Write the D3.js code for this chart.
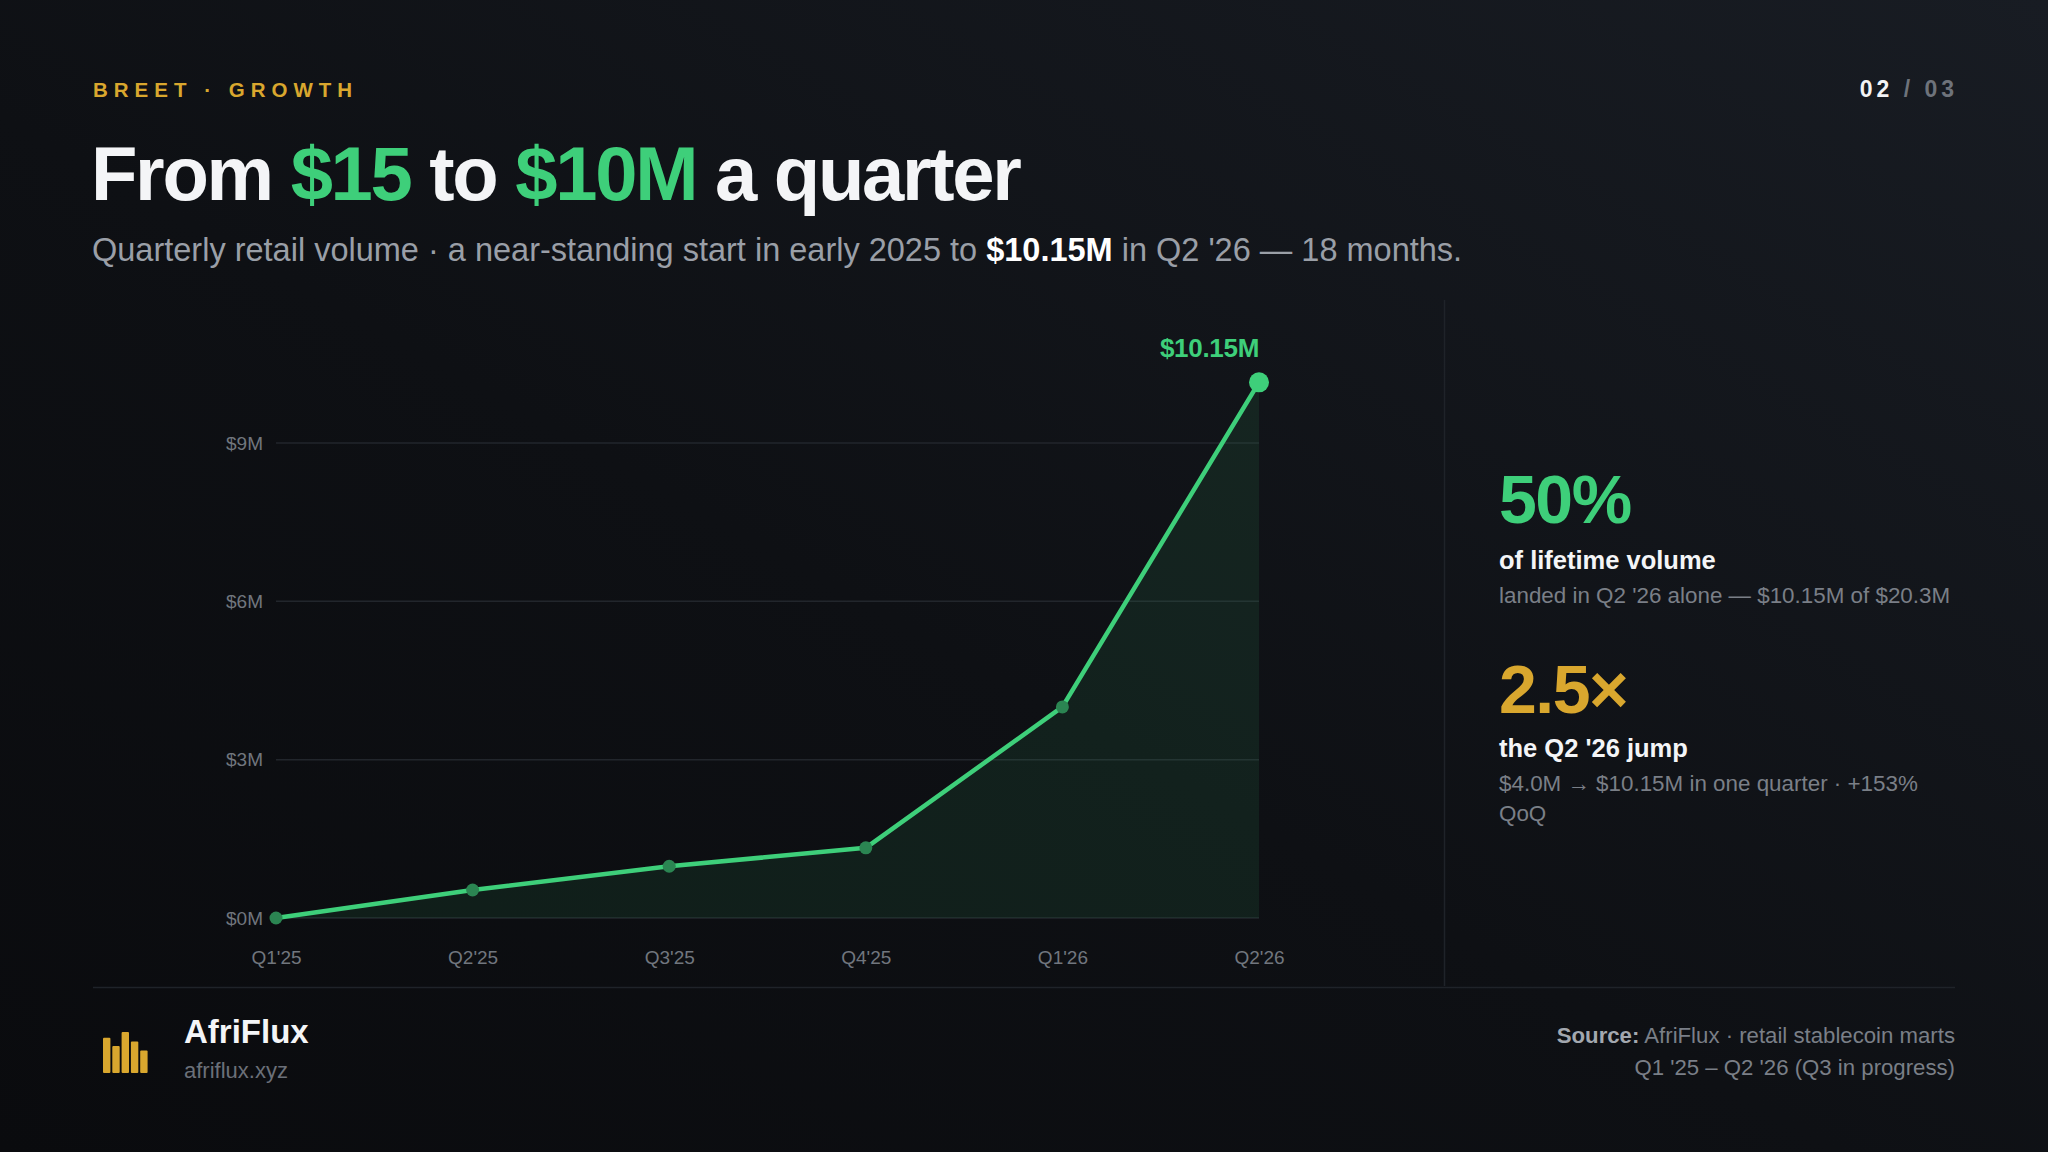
<!DOCTYPE html>
<html lang="en">
<head>
<meta charset="UTF-8">
<title>AfriFlux growth</title>
<style>
    body {
        margin: 0;
        padding: 0;
        background: #0c0e12;
        font-family: "Liberation Sans", Arial, sans-serif;
    }
    svg { display: block; }
</style>
</head>
<body>
<svg id="chart" width="2048" height="1152"></svg>

<script src="https://cdnjs.cloudflare.com/ajax/libs/d3/7.8.5/d3.min.js"></script>
<script>
// data (values in $M)
const quarters = ["Q1'25", "Q2'25", "Q3'25", "Q4'25", "Q1'26", "Q2'26"];
const volume = [0.000015, 0.53, 0.98, 1.33, 4.0, 10.15];
const yTicks = [0, 3, 6, 9];
const yTickLabels = ["$0M", "$3M", "$6M", "$9M"];
const logoBars = [0.86, 0.66, 1.0, 0.77, 0.55];

const GREEN = "#3ecf7a";
const GOLD = "#d9a72e";

const svg = d3.select("#chart");

// background
const defs = svg.append("defs");
const bg = defs.append("linearGradient").attr("id", "bg")
    .attr("x1", "100%").attr("y1", "0%").attr("x2", "0%").attr("y2", "100%");
bg.append("stop").attr("offset", "0%").attr("stop-color", "#181c23");
bg.append("stop").attr("offset", "55%").attr("stop-color", "#0e1014");
bg.append("stop").attr("offset", "100%").attr("stop-color", "#0a0b0e");
svg.append("rect").attr("width", 2048).attr("height", 1152).attr("fill", "url(#bg)");

// header
svg.append("text")
    .attr("x", 93).attr("y", 97)
    .attr("fill", GOLD)
    .attr("font-size", 20.5).attr("font-weight", 700)
    .attr("letter-spacing", "6px")
    .text("BREET · GROWTH");

const pager = svg.append("text")
    .attr("x", 1958).attr("y", 97)
    .attr("text-anchor", "end")
    .attr("font-size", 23).attr("font-weight", 700)
    .attr("letter-spacing", "4px");
pager.append("tspan").attr("fill", "#f2f3f5").text("02 ");
pager.append("tspan").attr("fill", "#6e737b").text("/ 03");

const title = svg.append("text")
    .attr("x", 91).attr("y", 200)
    .attr("font-size", 76).attr("font-weight", 700)
    .attr("letter-spacing", "-2.3px")
    .attr("fill", "#f4f5f7");
title.append("tspan").text("From ");
title.append("tspan").attr("fill", GREEN).text("$15");
title.append("tspan").text(" to ");
title.append("tspan").attr("fill", GREEN).text("$10M");
title.append("tspan").text(" a quarter");

const sub = svg.append("text")
    .attr("x", 92).attr("y", 261)
    .attr("font-size", 32.5)
    .attr("fill", "#9a9fa7");
sub.append("tspan").text("Quarterly retail volume · a near-standing start in early 2025 to ");
sub.append("tspan").attr("fill", "#ffffff").attr("font-weight", 700).text("$10.15M");
sub.append("tspan").text(" in Q2 '26 — 18 months.");

// dividers
svg.append("line")
    .attr("x1", 1444.5).attr("x2", 1444.5).attr("y1", 300).attr("y2", 986)
    .attr("stroke", "#1f2329").attr("stroke-width", 1.5);
svg.append("line")
    .attr("x1", 93).attr("x2", 1955).attr("y1", 987.5).attr("y2", 987.5)
    .attr("stroke", "#1f2329").attr("stroke-width", 1.5);

// chart
const x = d3.scalePoint().domain(quarters).range([276, 1259]);
const y = d3.scaleLinear().domain([0, 9]).range([918, 443]);

const g = svg.append("g");

g.selectAll(".grid")
    .data(yTicks)
    .enter().append("line")
    .attr("x1", x.range()[0]).attr("x2", x.range()[1])
    .attr("y1", d => y(d)).attr("y2", d => y(d))
    .attr("stroke", "#22262c").attr("stroke-width", 1.5);

const yAxis = d3.axisLeft(y).tickValues(yTicks)
    .tickFormat((d, i) => yTickLabels[i]).tickSize(0).tickPadding(0);
g.append("g")
    .attr("transform", "translate(263,0)")
    .call(yAxis)
    .call(a => a.select(".domain").remove())
    .selectAll("text")
    .attr("fill", "#71767e").attr("font-size", 19)
    .attr("font-family", "'Liberation Sans', Arial, sans-serif");

const xAxis = d3.axisBottom(x).tickSize(0).tickPadding(0);
g.append("g")
    .attr("transform", "translate(0,950)")
    .call(xAxis)
    .call(a => a.select(".domain").remove())
    .selectAll("text")
    .attr("fill", "#71767e").attr("font-size", 19)
    .attr("font-family", "'Liberation Sans', Arial, sans-serif");

const pts = quarters.map((q, i) => ({ q, v: volume[i] }));

const area = d3.area().x(d => x(d.q)).y0(y(0)).y1(d => y(d.v));
g.append("path").datum(pts)
    .attr("d", area)
    .attr("fill", GREEN).attr("fill-opacity", 0.09);

const line = d3.line().x(d => x(d.q)).y(d => y(d.v));
g.append("path").datum(pts)
    .attr("d", line)
    .attr("fill", "none")
    .attr("stroke", GREEN).attr("stroke-width", 4.5)
    .attr("stroke-linejoin", "round").attr("stroke-linecap", "round");

g.selectAll(".pt")
    .data(pts.slice(0, -1))
    .enter().append("circle")
    .attr("cx", d => x(d.q)).attr("cy", d => y(d.v))
    .attr("r", 6.5)
    .attr("fill", "#2b8552");

const last = pts[pts.length - 1];
g.append("circle")
    .attr("cx", x(last.q)).attr("cy", y(last.v))
    .attr("r", 10)
    .attr("fill", GREEN);
g.append("text")
    .attr("x", x(last.q)).attr("y", y(last.v) - 25)
    .attr("text-anchor", "end")
    .attr("fill", GREEN)
    .attr("font-size", 26).attr("font-weight", 700)
    .attr("letter-spacing", "-0.3px")
    .text("$10.15M");

// right panel
const rp = svg.append("g").attr("transform", "translate(1499,0)");
rp.append("text").attr("y", 523)
    .attr("fill", GREEN).attr("font-size", 68).attr("font-weight", 700)
    .attr("letter-spacing", "-1.5px")
    .text("50%");
rp.append("text").attr("y", 569)
    .attr("fill", "#f4f5f7").attr("font-size", 25.5).attr("font-weight", 700)
    .text("of lifetime volume");
rp.append("text").attr("y", 603)
    .attr("fill", "#7a7f87").attr("font-size", 22.4)
    .text("landed in Q2 '26 alone — $10.15M of $20.3M");

rp.append("text").attr("y", 713)
    .attr("fill", GOLD).attr("font-size", 68).attr("font-weight", 700)
    .attr("letter-spacing", "-1.5px")
    .text("2.5×");
rp.append("text").attr("y", 757)
    .attr("fill", "#f4f5f7").attr("font-size", 25.5).attr("font-weight", 700)
    .text("the Q2 '26 jump");
const jd = rp.append("text").attr("fill", "#7a7f87").attr("font-size", 22.4);
jd.append("tspan").attr("x", 0).attr("y", 791).text("$4.0M → $10.15M in one quarter · +153%");
jd.append("tspan").attr("x", 0).attr("y", 821).text("QoQ");

// footer
const logoH = 41;
svg.append("g").selectAll("rect")
    .data(logoBars)
    .enter().append("rect")
    .attr("x", (d, i) => 103 + i * 9.3)
    .attr("y", d => 1073 - d * logoH)
    .attr("width", 7.4)
    .attr("height", d => d * logoH)
    .attr("rx", 1)
    .attr("fill", GOLD);

svg.append("text")
    .attr("x", 184).attr("y", 1043)
    .attr("fill", "#f4f5f7").attr("font-size", 33).attr("font-weight", 700)
    .text("AfriFlux");
svg.append("text")
    .attr("x", 184).attr("y", 1078)
    .attr("fill", "#6b7079").attr("font-size", 22)
    .text("afriflux.xyz");

const src = svg.append("text")
    .attr("text-anchor", "end")
    .attr("font-size", 22.2);
const s1 = src.append("tspan").attr("x", 1955).attr("y", 1043);
s1.append("tspan").attr("fill", "#a3a8af").attr("font-weight", 700).text("Source:");
s1.append("tspan").attr("fill", "#7a7f87").text(" AfriFlux · retail stablecoin marts");
src.append("tspan").attr("x", 1955).attr("y", 1075)
    .attr("fill", "#7a7f87")
    .text("Q1 '25 – Q2 '26 (Q3 in progress)");
</script>
</body>
</html>
